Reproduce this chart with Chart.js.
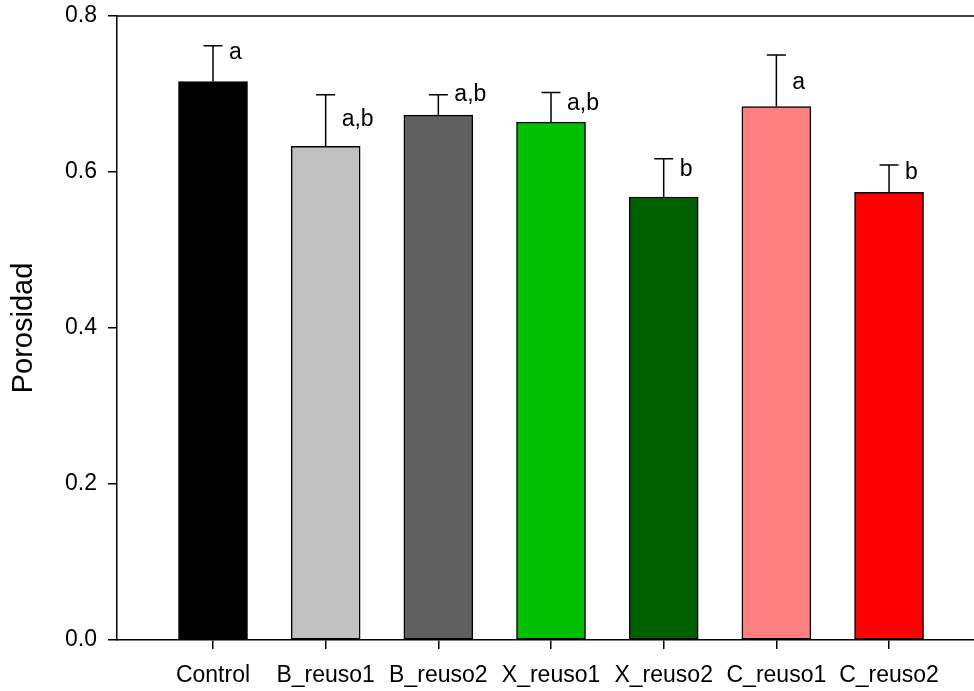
<!DOCTYPE html>
<html>
<head>
<meta charset="utf-8">
<script src="https://cdn.jsdelivr.net/npm/chart.js@4.4.1/dist/chart.umd.min.js"></script>
<style>
    body { margin: 0; background: #fff; }
    #wrap { width: 974px; height: 691px; }
</style>
</head>
<body>
<div id="wrap"><canvas id="chart" width="974" height="691"></canvas></div>
<script>
// ========== DATA ==========
const categories = ['Control', 'B_reuso1', 'B_reuso2', 'X_reuso1', 'X_reuso2', 'C_reuso1', 'C_reuso2'];
const means = [0.716, 0.633, 0.673, 0.664, 0.568, 0.684, 0.574];
const errors = [0.046, 0.066, 0.026, 0.038, 0.049, 0.066, 0.035];
const letters = ['a', 'a,b', 'a,b', 'a,b', 'b', 'a', 'b'];
const letterY = [0.753, 0.667, 0.699, 0.687, 0.603, 0.715, 0.599];
const barColors = ['#000000', '#c0c0c0', '#606060', '#00c000', '#006000', '#ff8080', '#ff0000'];
const yTicks = [0, 0.2, 0.4, 0.6, 0.8];

const FONT = '"Liberation Sans", Arial, sans-serif';

// error bars, significance letters and the top frame line
const extrasPlugin = {
    id: 'extras',
    afterDatasetsDraw(chart) {
        const ctx = chart.ctx;
        const x = chart.scales.x;
        const y = chart.scales.y;
        const area = chart.chartArea;
        ctx.save();
        ctx.strokeStyle = '#000';
        ctx.lineWidth = 1.5;
        means.forEach((m, i) => {
            const cx = x.getPixelForValue(i);
            const y0 = y.getPixelForValue(m);
            const y1 = y.getPixelForValue(m + errors[i]);
            ctx.beginPath();
            ctx.moveTo(cx, y0);
            ctx.lineTo(cx, y1);
            ctx.moveTo(cx - 9.5, y1);
            ctx.lineTo(cx + 9.5, y1);
            ctx.stroke();

            ctx.fillStyle = '#000';
            ctx.font = '23px ' + FONT;
            ctx.textAlign = 'left';
            ctx.textBaseline = 'middle';
            ctx.fillText(letters[i], cx + 16, y.getPixelForValue(letterY[i]));
        });
        // top frame line
        ctx.beginPath();
        ctx.moveTo(area.left, area.top);
        ctx.lineTo(area.right, area.top);
        ctx.stroke();
        ctx.restore();
    }
};

new Chart(document.getElementById('chart'), {
    type: 'bar',
    data: {
        datasets: [{
            data: means.map((v, i) => ({ x: i, y: v })),
            backgroundColor: barColors,
            borderColor: '#000',
            borderWidth: 1.5,
            borderSkipped: false,
            barThickness: 69
        }]
    },
    options: {
        responsive: false,
        animation: false,
        devicePixelRatio: 1,
        layout: { padding: { top: 16, right: 0, bottom: 0, left: 0 } },
        plugins: { legend: { display: false }, tooltip: { enabled: false } },
        scales: {
            x: {
                type: 'linear',
                min: -0.852,
                max: 6.754,
                offset: false,
                afterFit: s => { s.height = 51; s.paddingLeft = 0; s.paddingRight = 0; },
                afterBuildTicks: s => { s.ticks = categories.map((c, i) => ({ value: i })); },
                ticks: {
                    color: '#000',
                    font: { family: FONT, size: 23 },
                    padding: 13,
                    maxRotation: 0,
                    autoSkip: false,
                    callback: v => categories[v]
                },
                grid: { drawOnChartArea: false, drawTicks: true, tickLength: 9, color: '#000', lineWidth: 1.5, offset: false },
                border: { display: true, color: '#000', width: 1.5 }
            },
            y: {
                min: 0,
                max: 0.8,
                afterFit: s => { s.width = 117; s.paddingTop = 0; s.paddingBottom = 0; },
                afterBuildTicks: s => { s.ticks = yTicks.map(v => ({ value: v })); },
                ticks: {
                    color: '#000',
                    font: { family: FONT, size: 23 },
                    padding: 11,
                    callback: v => v.toFixed(1)
                },
                grid: { drawOnChartArea: false, drawTicks: true, tickLength: 9, color: '#000', lineWidth: 1.5 },
                border: { display: true, color: '#000', width: 1.5 },
                title: {
                    display: true,
                    text: 'Porosidad',
                    color: '#000',
                    font: { family: FONT, size: 29, lineHeight: 1.2 },
                    padding: { top: 7, bottom: 0 }
                }
            }
        }
    },
    plugins: [extrasPlugin]
});
</script>
</body>
</html>
